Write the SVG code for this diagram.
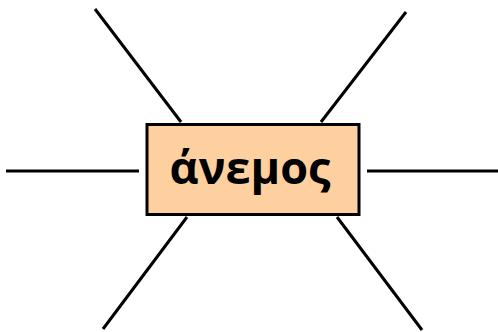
<svg xmlns="http://www.w3.org/2000/svg" width="498" height="332" viewBox="0 0 498 332">
<style>
.c line{stroke:#000;stroke-width:3;fill:none}
.box{fill:#FFD09F;stroke:#000;stroke-width:3}
.lbl{font-family:"Open Sans","Noto Sans","DejaVu Sans",sans-serif;font-weight:bold;font-size:45px;fill:#000;text-anchor:middle}
</style>
<rect width="498" height="332" fill="#fff"/>
<g id="connectors" class="c">
<line x1="95" y1="9" x2="181" y2="122"/>
<line x1="406" y1="12" x2="321" y2="122"/>
<line x1="6" y1="171" x2="139" y2="171"/>
<line x1="367" y1="171" x2="498" y2="171"/>
<line x1="103" y1="329" x2="187" y2="217"/>
<line x1="422" y1="330" x2="337" y2="217"/>
</g>
<g id="node-anemos">
<rect class="box" x="147" y="124.5" width="212" height="90"/>
<text class="lbl" x="250" y="184">άνεμος</text>
</g>
</svg>
